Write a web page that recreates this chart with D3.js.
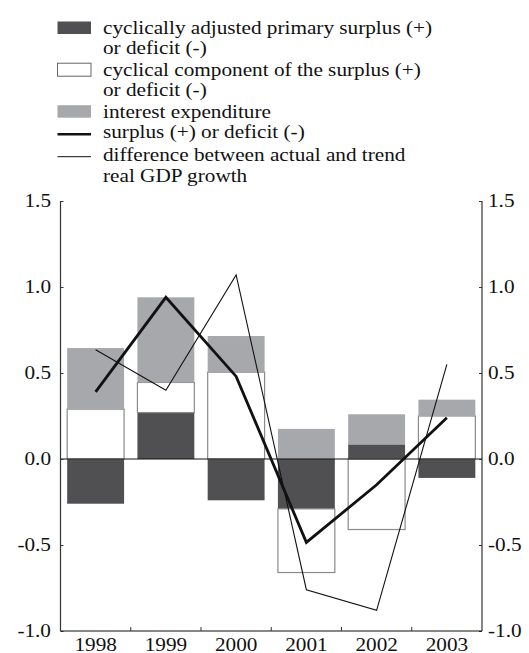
<!DOCTYPE html>
<html><head><meta charset="utf-8">
<script src="https://cdn.jsdelivr.net/npm/d3@7"></script>
<style>
html,body{margin:0;padding:0;background:#fff;}
svg{display:block;font-family:"Liberation Serif","Times New Roman",serif;}
</style></head>
<body><svg id="c" width="529" height="653"></svg>
<script>
const years = ["1998","1999","2000","2001","2002","2003"];
const cyclicallyAdjusted = [-0.26, 0.27, -0.24, -0.29, 0.085, -0.11];
const cyclicalComponent = [0.29, 0.175, 0.505, -0.37, -0.41, 0.25];
const interestExpenditure = [0.355, 0.495, 0.21, 0.175, 0.175, 0.095];
const surplus = [0.39, 0.94, 0.48, -0.485, -0.15, 0.24];
const gdpGap = [0.635, 0.40, 1.07, -0.76, -0.88, 0.55];
const yTicks = [-1.0, -0.5, 0.0, 0.5, 1.0, 1.5];
const legendItems = [
  {type:"dark", lines:["cyclically adjusted primary surplus (+)","or deficit (-)"]},
  {type:"white", lines:["cyclical component of the surplus (+)","or deficit (-)"]},
  {type:"grey", lines:["interest expenditure"]},
  {type:"thick", lines:["surplus (+) or deficit (-)"]},
  {type:"thin", lines:["difference between actual and trend","real GDP growth"]}
];

const svg = d3.select("#c");
const L = 60.5, R = 482, T = 201, B = 631;
const x = d3.scaleBand().domain(years).range([L, R]).paddingInner(0.19).paddingOuter(0.095);
const y = d3.scaleLinear().domain([-1, 1.5]).range([B, T]);
const fontSize = 18;
const sx = 1.18;

const keys = ["dark","white","grey"];
const rows = years.map((yr,i)=>({year:yr, dark:cyclicallyAdjusted[i], white:cyclicalComponent[i], grey:interestExpenditure[i]}));
const stack = d3.stack().keys(keys).offset(d3.stackOffsetDiverging)(rows);
const fills = {dark:"#505052", white:"#ffffff", grey:"#a7a8ab"};

const g = svg.append("g");
stack.forEach(layer=>{
  g.selectAll(null).data(layer).enter().append("rect")
    .attr("x", d=>x(d.data.year))
    .attr("width", x.bandwidth())
    .attr("y", d=>y(Math.max(d[0],d[1])))
    .attr("height", d=>Math.abs(y(d[0])-y(d[1])))
    .attr("fill", fills[layer.key])
    .attr("stroke", layer.key==="white" ? "#8a8a8a" : "none")
    .attr("stroke-width", 1.2);
});

svg.append("line").attr("x1",L).attr("x2",R).attr("y1",y(0)).attr("y2",y(0))
  .attr("stroke","#111").attr("stroke-width",1);

const cx = d=>x(d)+x.bandwidth()/2;
const lineGen = d3.line().x(d=>cx(d[0])).y(d=>y(d[1]));
svg.append("path").attr("d", lineGen(years.map((yr,i)=>[yr, gdpGap[i]])))
  .attr("fill","none").attr("stroke","#111").attr("stroke-width",1.1);
svg.append("path").attr("d", lineGen(years.map((yr,i)=>[yr, surplus[i]])))
  .attr("fill","none").attr("stroke","#111").attr("stroke-width",2.8).attr("stroke-linejoin","miter");

function stretch(sel){
  sel.each(function(){
    const t = d3.select(this);
    const tx = +t.attr("x") || 0;
    const ty = +t.attr("y") || 0;
    t.attr("x",0).attr("y",0).attr("transform",`translate(${tx},${ty}) scale(${sx},1)`);
  });
}

const axCol = "#333";
const fmt = d=>d.toFixed(1);
const yl = d3.axisLeft(y).tickValues(yTicks).tickSize(-3).tickPadding(9.5).tickFormat(fmt);
const yr = d3.axisRight(y).tickValues(yTicks).tickSize(-3).tickPadding(6).tickFormat(fmt);
function styleAxis(sel){
  sel.select(".domain").attr("stroke",axCol).attr("stroke-width",1.2);
  sel.selectAll(".tick line").attr("stroke",axCol);
  sel.selectAll("text").attr("font-family",'"Liberation Serif",serif').attr("font-size",fontSize).attr("fill","#111");
  stretch(sel.selectAll("text"));
}
const gl = svg.append("g").attr("transform",`translate(${L},0)`).call(yl);
gl.select(".domain").attr("d",`M0,${T}V${B}`);
styleAxis(gl);
const gr = svg.append("g").attr("transform",`translate(${R},0)`).call(yr);
gr.select(".domain").attr("d",`M0,${T}V${B}`);
styleAxis(gr);

const bx = d3.axisBottom(x).tickSize(0).tickPadding(7);
const gb = svg.append("g").attr("transform",`translate(0,${B})`).call(bx);
gb.select(".domain").attr("d",`M${L},0H${R}`).attr("stroke","#111").attr("stroke-width",1.2);
gb.selectAll("text").attr("font-family",'"Liberation Serif",serif').attr("font-size",fontSize).attr("fill","#111");
stretch(gb.selectAll("text"));
const bounds = years.slice(1).map(yr=>x(yr)-x.step()*x.paddingInner()/2);
gb.selectAll(".sep").data(bounds).enter().append("line")
  .attr("x1",d=>d).attr("x2",d=>d).attr("y1",0).attr("y2",-4).attr("stroke",axCol);

const lg = svg.append("g");
const baselines = [34, 54.3, 75.7, 96, 117.7, 138.3, 160.7, 182.3];
let li = 0;
legendItems.forEach(item=>{
  const b0 = baselines[li];
  if(item.type==="dark"||item.type==="white"||item.type==="grey"){
    lg.append("rect").attr("x",57.5).attr("y",b0-12.5).attr("width",33.5).attr("height",item.type==="white"?13:12.5)
      .attr("fill",fills[item.type]).attr("stroke",item.type==="white"?"#666":"none").attr("stroke-width",1);
  } else {
    lg.append("line").attr("x1",57.5).attr("x2",91).attr("y1",b0-4).attr("y2",b0-4)
      .attr("stroke","#111").attr("stroke-width",item.type==="thick"?2.6:1);
  }
  item.lines.forEach(t=>{
    lg.append("text").attr("x",103).attr("y",baselines[li]).attr("font-size",fontSize).attr("fill","#111").text(t);
    li++;
  });
});
stretch(lg.selectAll("text"));
</script></body></html>
